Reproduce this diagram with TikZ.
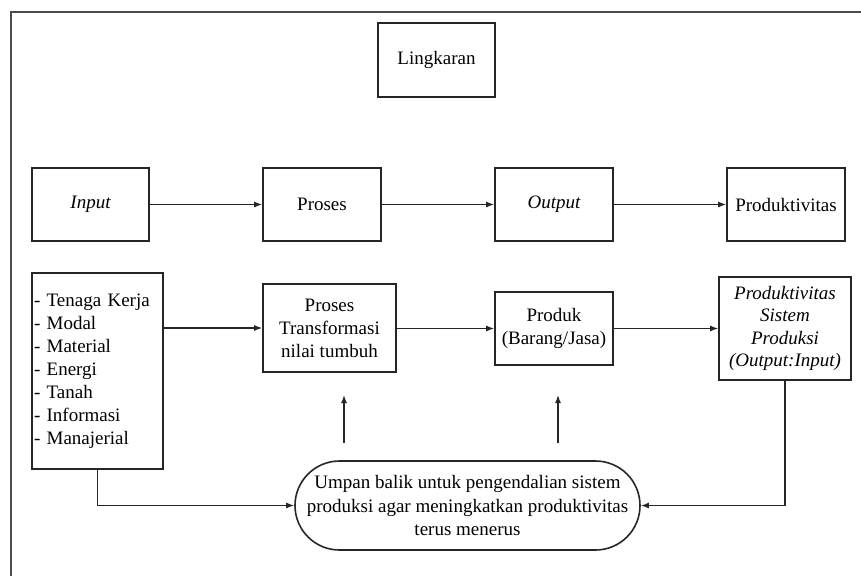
\documentclass[tikz,border=0pt]{standalone}
\usepackage{fontspec}
\setmainfont{Liberation Serif}
\usetikzlibrary{arrows.meta,shapes.misc}
\begin{document}
\begin{tikzpicture}[x=1pt,y=-1pt,
  box/.style={draw=black!85,line width=1.6pt,inner sep=2pt,align=center,font=\fontsize{19}{23}\selectfont},
  arr/.style={line width=1.4pt,draw=black!85,-{Latex[length=8pt,width=6pt]}}]
\useasboundingbox (0,0) rectangle (861,576);
\draw[line width=2.2pt,black!70] (861,12) -- (11,12) -- (11,576);
\node[box,minimum width=117pt,minimum height=74pt] (ling) at (436.5,60) {Lingkaran};
\node[box,minimum width=117pt,minimum height=73pt] (in) at (90.5,204.5) {\itshape Input};
\node[box,minimum width=118pt,minimum height=73pt] (pr) at (322,204.5) {Proses};
\node[box,minimum width=118pt,minimum height=73pt] (out) at (554,204.5) {\itshape Output};
\node[box,minimum width=118pt,minimum height=73pt] (prod) at (786,204.5) {Produktivitas};
\node[box,align=left,text width=127pt,minimum height=196pt] (list) at (97.5,371)
 {- Tenaga Kerja\\- Modal\\- Material\\- Energi\\- Tanah\\- Informasi\\- Manajerial};
\node[box,minimum width=133pt,minimum height=88pt] (pt) at (329.5,328) {Proses\\Transformasi\\nilai tumbuh};
\node[box,minimum width=118pt,minimum height=73pt] (pdk) at (554,328.5) {Produk\\(Barang/Jasa)};
\node[box,minimum width=132pt,minimum height=103pt,font=\fontsize{19}{22.5}\selectfont\itshape] (psp) at (785,328.5) {Produktivitas\\Sistem\\Produksi\\(Output:Input)};
\node[box,rounded rectangle,minimum width=349pt,minimum height=89pt,font=\fontsize{19}{23.5}\selectfont] (fb) at (467.5,505.5)
 {Umpan balik untuk pengendalian sistem\\produksi agar meningkatkan produktivitas\\terus menerus};
\coordinate (a1s) at (344,443);
\coordinate (a1e) at (344,395);
\coordinate (a2s) at (558,443);
\coordinate (a2e) at (558,395);
\draw[arr] (in) -- (pr);
\draw[arr] (pr) -- (out);
\draw[arr] (out) -- (prod);
\draw[arr] (list.east |- pt.west) -- (pt.west);
\draw[arr] (pt.east |- pdk.west) -- (pdk.west);
\draw[arr] (pdk.east) -- (psp.west |- pdk.east);
\draw[arr] (a1s) -- (a1e);
\draw[arr] (a2s) -- (a2e);
\draw[arr] (list.south) |- (fb.west);
\draw[arr] (psp.south) |- (fb.east);
\end{tikzpicture}
\end{document}
